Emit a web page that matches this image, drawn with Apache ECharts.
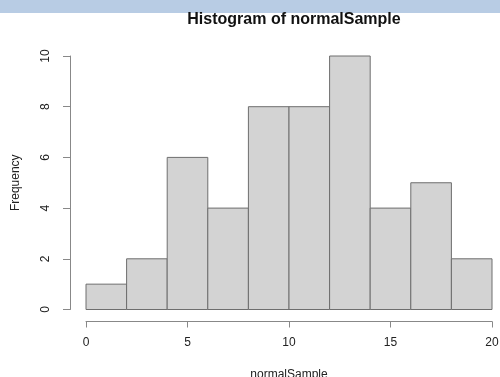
<!DOCTYPE html>
<html><head><meta charset="utf-8">
<script src="https://cdn.jsdelivr.net/npm/echarts@6/dist/echarts.min.js"></script>
<style>html,body{margin:0;padding:0;background:#fff}#c{width:500px;height:377px}</style>
</head><body><div id="c"></div>
<script>
const binStarts = [0, 2, 4, 6, 8, 10, 12, 14, 16, 18];
const binWidth = 2;
const counts = [1, 2, 6, 4, 8, 8, 10, 4, 5, 2];
const xTicks = [0, 5, 10, 15, 20];
const yTicks = [0, 2, 4, 6, 8, 10];

const chart = echarts.init(document.getElementById('c'), null, {renderer: 'canvas'});
const font = '"Liberation Sans", Arial, sans-serif';
chart.setOption({
  animation: false,
  title: {
    text: 'Histogram of normalSample', left: 289, top: 7, textAlign: 'center',
    textStyle: {fontFamily: font, fontSize: 16, fontWeight: 'bold', color: '#111'}
  },
  graphic: [{type: 'rect', shape: {x: 0, y: 0, width: 500, height: 13}, style: {fill: '#b8cce4'}, z: -1}],
  grid: {left: 86, right: 8, top: 56, bottom: 67.5, containLabel: false, outerBoundsMode: 'none'},
  xAxis: {
    type: 'value', min: 0, max: 20, interval: 5, offset: 12,
    name: 'normalSample', nameLocation: 'middle', nameGap: 47,
    nameTextStyle: {fontFamily: font, fontSize: 12, color: '#222'},
    axisLine: {show: true, onZero: false, lineStyle: {color: '#888'}},
    axisTick: {show: true, length: 6, lineStyle: {color: '#888'}},
    axisLabel: {fontFamily: font, fontSize: 12, color: '#222', margin: 15, showMaxLabel: true},
    splitLine: {show: false}
  },
  yAxis: {
    type: 'value', min: 0, max: 10, interval: 2, offset: 16,
    name: 'Frequency', nameLocation: 'middle', nameGap: 48, nameRotate: 90,
    nameTextStyle: {fontFamily: font, fontSize: 12, color: '#222'},
    axisLine: {show: true, onZero: false, lineStyle: {color: '#888'}},
    axisTick: {show: true, length: 7, lineStyle: {color: '#888'}},
    axisLabel: {fontFamily: font, fontSize: 12, color: '#222', rotate: 90, margin: 18},
    splitLine: {show: false}
  },
  series: [{
    type: 'custom',
    data: binStarts.map((s, i) => [s, s + binWidth, counts[i]]),
    renderItem: function (params, api) {
      const p0 = api.coord([api.value(0), 0]);
      const p1 = api.coord([api.value(1), api.value(2)]);
      return {
        type: 'rect',
        shape: {x: p0[0], y: p1[1], width: p1[0] - p0[0], height: p0[1] - p1[1]},
        style: {fill: '#d3d3d3', stroke: '#6e6e6e', lineWidth: 1}
      };
    }
  }]
});
</script></body></html>
